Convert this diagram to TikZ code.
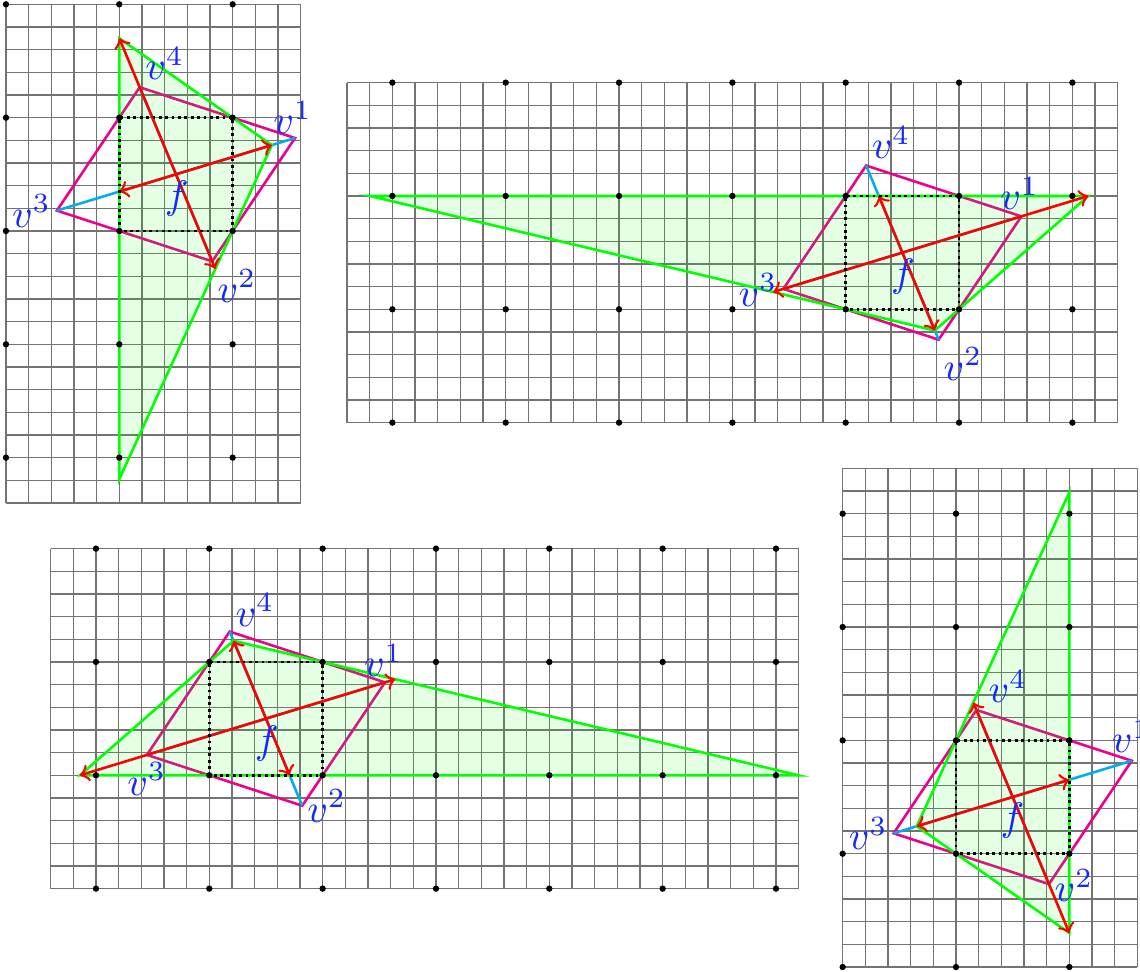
\documentclass[tikz,border=0pt]{standalone}
\usetikzlibrary{arrows.meta}
\definecolor{qmag}{RGB}{236,0,140}
\definecolor{qcyan}{RGB}{0,174,239}
\definecolor{qgreen}{RGB}{0,255,0}
\definecolor{qred}{RGB}{255,0,0}
\definecolor{qblue}{RGB}{20,40,255}
\tikzset{
  gridln/.style={black!55, line width=0.3pt},
  quad/.style={qmag, line width=0.65pt},
  diagln/.style={qcyan, line width=0.65pt},
  trifill/.style={fill=qgreen, fill opacity=0.1, draw=qgreen, line width=0.65pt},
  arr/.style={qred, line width=0.65pt, <->, >=to},
  unitsq/.style={black, line width=0.7pt, dash pattern=on 0.7pt off 0.9pt},
  lbl/.style={text=qblue, inner sep=0pt},
  ptdot/.style={black},
}
\newcommand\rhombus{%
  \coordinate (a1) at (1.5504,0.8200);
  \coordinate (a2) at (0.8200,-0.2682);
  \coordinate (a3) at (-0.5504,0.1800);
  \coordinate (a4) at (0.1800,1.2682);
  \draw[quad] (a1) -- (a2) -- (a3) -- (a4) -- cycle;
  \draw[diagln] (a3) -- (a1);
  \draw[diagln] (a2) -- (a4);
}
\begin{document}
\begin{tikzpicture}
\useasboundingbox (0,-8.5765) rectangle (10.0588,0);

% ---------- top left ----------
\begin{scope}[shift={(1.0526,-2.0382)}]
  \draw[gridln] (-1,-2.4) grid[step=0.2] (1.6,2);
  \rhombus
  \coordinate (t1) at (0,1.7003);
  \coordinate (t2) at (1.3460,0.7577);
  \coordinate (t3) at (0,-2.1899);
  \filldraw[trifill] (t1) -- (t2) -- (t3) -- cycle;
  \coordinate (e1) at (0,0.3477);
  \coordinate (e2) at (0.8474,-0.3341);
  \draw[arr] (e1) -- (t2);
  \draw[arr] (t1) -- (e2);
  \draw[unitsq] (0,0) rectangle (1,1);
  \foreach \x in {-1,...,1} \foreach \y in {-2,...,2} \fill[ptdot] (\x,\y) circle (0.8pt);
  \node[lbl] (n4) at (0.40,1.48) {$v^4$};
  \node[lbl] (n1) at (1.53,1.00) {$v^1$};
  \node[lbl] (n3) at (-0.775,0.175) {$v^3$};
  \node[lbl] (n2) at (1.037,-0.484) {$v^2$};
  \node[lbl] (nf) at (0.507,0.283) {$f$};
\end{scope}

% ---------- top right ----------
\begin{scope}[shift={(7.4621,-2.7291)}]
  \draw[gridln] (-4.4,-1) grid[step=0.2] (2.4,2);
  \rhombus
  \coordinate (t1) at (-4.1987,1);
  \coordinate (t2) at (2.1412,1);
  \coordinate (t3) at (0.7863,-0.1873);
  \filldraw[trifill] (t1) -- (t2) -- (t3) -- cycle;
  \coordinate (e1) at (-0.6405,0.1525);
  \coordinate (e2) at (0.2917,1);
  \draw[arr] (e1) -- (t2);
  \draw[arr] (e2) -- (t3);
  \draw[unitsq] (0,0) rectangle (1,1);
  \foreach \x in {-4,...,2} \foreach \y in {-1,...,2} \fill[ptdot] (\x,\y) circle (0.8pt);
  \node[lbl] (n4) at (0.40,1.47) {$v^4$};
  \node[lbl] (n1) at (1.535,1.02) {$v^1$};
  \node[lbl] (n3) at (-0.775,0.17) {$v^3$};
  \node[lbl] (n2) at (1.035,-0.483) {$v^2$};
  \node[lbl] (nf) at (0.505,0.286) {$f$};
\end{scope}

% ---------- bottom left ----------
\begin{scope}[shift={(1.8468,-6.8409)}]
  \draw[gridln] (-1.4,-1) grid[step=0.2] (5.2,2);
  \rhombus
  \coordinate (t1) at (-1.1412,0);
  \coordinate (t2) at (0.2137,1.1873);
  \coordinate (t3) at (5.1987,0);
  \filldraw[trifill] (t1) -- (t2) -- (t3) -- cycle;
  \coordinate (e1) at (1.6405,0.8475);
  \coordinate (e2) at (0.7083,0);
  \draw[arr] (t1) -- (e1);
  \draw[arr] (t2) -- (e2);
  \draw[unitsq] (0,0) rectangle (1,1);
  \foreach \x in {-1,...,5} \foreach \y in {-1,...,2} \fill[ptdot] (\x,\y) circle (0.8pt);
  \node[lbl] (n4) at (0.403,1.46) {$v^4$};
  \node[lbl] (n1) at (1.536,1.015) {$v^1$};
  \node[lbl] (n3) at (-0.553,-0.033) {$v^3$};
  \node[lbl] (n2) at (1.036,-0.272) {$v^2$};
  \node[lbl] (nf) at (0.507,0.276) {$f$};
\end{scope}

% ---------- bottom right ----------
\begin{scope}[shift={(8.4353,-7.5326)}]
  \draw[gridln] (-1,-1) grid[step=0.2] (1.6,3.4);
  \rhombus
  \coordinate (t1) at (1,-0.7003);
  \coordinate (t2) at (-0.3460,0.2423);
  \coordinate (t3) at (1,3.1899);
  \filldraw[trifill] (t1) -- (t2) -- (t3) -- cycle;
  \coordinate (e1) at (1,0.6523);
  \coordinate (e2) at (0.1526,1.3341);
  \draw[arr] (t2) -- (e1);
  \draw[arr] (t1) -- (e2);
  \draw[unitsq] (0,0) rectangle (1,1);
  \foreach \x in {-1,...,1} \foreach \y in {-1,...,3} \fill[ptdot] (\x,\y) circle (0.8pt);
  \node[lbl] (n4) at (0.459,1.474) {$v^4$};
  \node[lbl] (n1) at (1.545,1.033) {$v^1$};
  \node[lbl] (n3) at (-0.774,0.18) {$v^3$};
  \node[lbl] (n2) at (1.041,-0.283) {$v^2$};
  \node[lbl] (nf) at (0.499,0.289) {$f$};
\end{scope}
\end{tikzpicture}
\end{document}
